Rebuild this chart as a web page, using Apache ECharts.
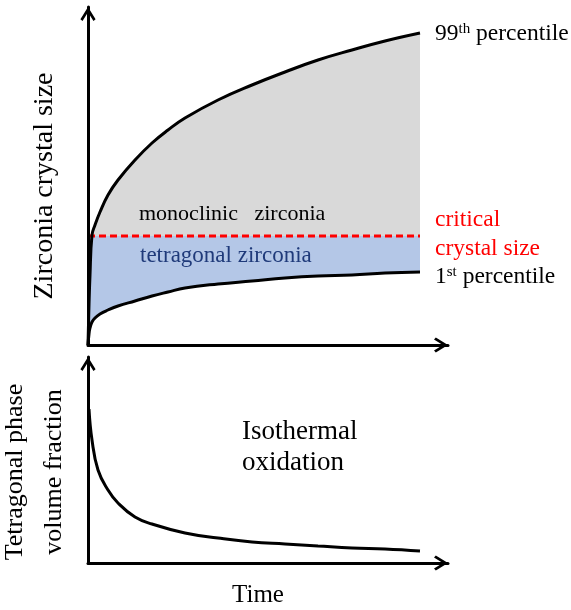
<!DOCTYPE html>
<html>
<head>
<meta charset="utf-8">
<script src="https://cdn.jsdelivr.net/npm/echarts@6/dist/echarts.min.js"></script>
<style>html,body{margin:0;padding:0;background:#fff}#c{width:571px;height:610px}</style>
</head>
<body>
<div id="c"></div>
<script>
// ---- data (schematic units) ----
const timeTop = [0, 1, 2, 4, 7, 12, 20, 30, 47, 64, 80, 97, 130, 164, 197, 230, 264, 297, 332];
const size99 = [0, 40, 70, 110, 120, 133, 150, 165, 185, 202, 215, 227, 245, 260, 273, 285, 295, 304, 312];
const size1 = [0, 11, 17, 23, 27, 31, 35, 39, 44, 49, 53, 57, 61, 64, 67, 69, 70, 72, 73];
const criticalSize = 109;
const criticalTime = [0, 332];
const timeBottom = [1, 4, 10, 20, 30, 47, 64, 97, 130, 164, 197, 230, 264, 297, 332];
const tetragonalFraction = [154, 123, 93, 73, 60, 46, 39, 30, 25, 21, 19, 17, 15, 14, 12];
const timeMax = 360, sizeMax = 338, fractionMax = 206;

const FONT = '"Liberation Serif", "Times New Roman", serif';
const pairs = (xs, ys) => xs.map((x, i) => [x, ys[i]]);
const arrowPath = 'path://M50,0 L100,80 L86,92 L50,34 L14,92 L0,80 Z';
const axisLine = {
  show: true, onZero: false,
  lineStyle: { color: '#000', width: 3 },
  symbol: ['none', arrowPath], symbolSize: [17, 14], symbolOffset: [0, -7]
};
const hidden = { axisTick: { show: false }, axisLabel: { show: false }, splitLine: { show: false } };
const SMOOTH = 0.45;

const chart = echarts.init(document.getElementById('c'), null, { renderer: 'canvas' });
chart.setOption({
  animation: false,
  backgroundColor: '#fff',
  grid: [
    { left: 88, right: 123, top: 7, bottom: 265, outerBoundsMode: 'none', containLabel: false },
    { left: 88, right: 123, top: 357, bottom: 47, outerBoundsMode: 'none', containLabel: false }
  ],
  xAxis: [
    Object.assign({ type: 'value', gridIndex: 0, min: 0, max: timeMax, axisLine, z: 10 }, hidden),
    Object.assign({ type: 'value', gridIndex: 1, min: 0, max: timeMax, axisLine, z: 10,
      name: 'Time', nameLocation: 'middle', nameGap: 20,
      nameTextStyle: { fontFamily: FONT, fontSize: 25, color: '#000', padding: [0, 20, 0, 0] } }, hidden)
  ],
  yAxis: [
    Object.assign({ type: 'value', gridIndex: 0, min: 0, max: sizeMax, axisLine, z: 10,
      name: 'Zirconia crystal size', nameLocation: 'middle', nameGap: 29, nameRotate: 90,
      nameTextStyle: { fontFamily: FONT, fontSize: 28, color: '#000', padding: [0, 20, 0, 0] } }, hidden),
    Object.assign({ type: 'value', gridIndex: 1, min: 0, max: fractionMax, axisLine, z: 10,
      name: 'Tetragonal phase\nvolume fraction', nameLocation: 'middle', nameGap: 14, nameRotate: 90,
      nameTextStyle: { fontFamily: FONT, fontSize: 26, lineHeight: 39, color: '#000', padding: [0, 24, 0, 0] } }, hidden)
  ],
  series: [
    { // monoclinic region: between 99th percentile and critical size
      type: 'line', xAxisIndex: 0, yAxisIndex: 0, data: pairs(timeTop, size99),
      smooth: SMOOTH, showSymbol: false, symbol: 'none', z: 1,
      lineStyle: { width: 0, opacity: 0 },
      areaStyle: { color: '#d9d9d9', opacity: 1, origin: criticalSize }
    },
    { // tetragonal region: between critical size and 1st percentile
      type: 'line', xAxisIndex: 0, yAxisIndex: 0, data: pairs(timeTop, size1),
      smooth: SMOOTH, showSymbol: false, symbol: 'none', z: 1,
      lineStyle: { width: 0, opacity: 0 },
      areaStyle: { color: '#b4c7e7', opacity: 1, origin: criticalSize }
    },
    { // critical crystal size
      type: 'line', xAxisIndex: 0, yAxisIndex: 0,
      data: criticalTime.map(t => [t, criticalSize]),
      showSymbol: false, symbol: 'none', z: 3,
      lineStyle: { color: '#ff0000', width: 3, type: [7, 4] },
      endLabel: { show: true, distance: 15, offset: [0, -2], formatter: 'critical\ncrystal size',
        fontFamily: FONT, fontSize: 23.5, lineHeight: 29, color: '#ff0000', align: 'left' }
    },
    { // 99th percentile
      type: 'line', xAxisIndex: 0, yAxisIndex: 0, data: pairs(timeTop, size99),
      smooth: SMOOTH, showSymbol: false, symbol: 'none', z: 4,
      lineStyle: { color: '#000', width: 3 },
      endLabel: { show: true, distance: 15, offset: [0, 1],
        formatter: '{n|99}{s|th}{n| percentile}',
        rich: {
          n: { fontFamily: FONT, fontSize: 23.5, lineHeight: 25, color: '#000' },
          s: { fontFamily: FONT, fontSize: 15, lineHeight: 15, color: '#000', verticalAlign: 'top' }
        } }
    },
    { // 1st percentile
      type: 'line', xAxisIndex: 0, yAxisIndex: 0, data: pairs(timeTop, size1),
      smooth: SMOOTH, showSymbol: false, symbol: 'none', z: 4,
      lineStyle: { color: '#000', width: 3 },
      endLabel: { show: true, distance: 15, offset: [0, 5],
        formatter: '{n|1}{s|st}{n| percentile}',
        rich: {
          n: { fontFamily: FONT, fontSize: 23.5, lineHeight: 25, color: '#000' },
          s: { fontFamily: FONT, fontSize: 15, lineHeight: 15, color: '#000', verticalAlign: 'top' }
        } }
    },
    { // tetragonal phase volume fraction vs time
      type: 'line', xAxisIndex: 1, yAxisIndex: 1, data: pairs(timeBottom, tetragonalFraction),
      smooth: SMOOTH, showSymbol: false, symbol: 'none', z: 4,
      lineStyle: { color: '#000', width: 3 }
    }
  ],
  graphic: [
    { type: 'text', left: 139, top: 203, z: 20,
      style: { text: 'monoclinic   zirconia', font: '22px ' + FONT, fill: '#000' } },
    { type: 'text', left: 140, top: 244, z: 20,
      style: { text: 'tetragonal zirconia', font: '23px ' + FONT, fill: '#1f3a7a' } },
    { type: 'text', left: 242, top: 416, z: 20,
      style: { text: 'Isothermal\noxidation', font: '27px ' + FONT, fill: '#000',
        align: 'center', lineHeight: 31, width: 117 } }
  ]
});
</script>
</body>
</html>
